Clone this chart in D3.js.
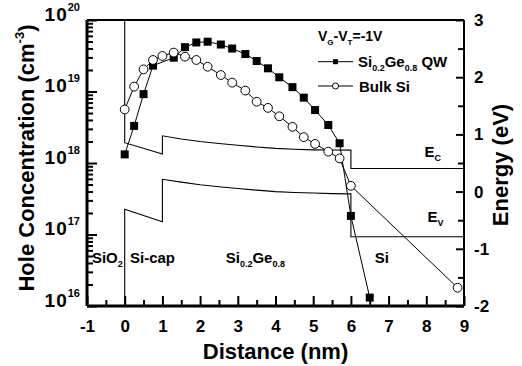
<!DOCTYPE html>
<html>
<head>
<meta charset="utf-8">
<script src="https://cdn.jsdelivr.net/npm/d3@7"></script>
<style>
    body { margin: 0; background: #fff; }
    svg { display: block; }
</style>
</head>
<body>
<div id="chart"></div>
<script>
// Hole concentration, Si0.2Ge0.8 quantum well (filled squares)
const qwDistance = [0, 0.25, 0.5, 0.75, 1.3, 1.6, 1.9, 2.2, 2.55, 2.85, 3.2, 3.5, 3.8, 4.1, 4.45, 4.75, 5.05, 5.4, 5.7, 6.0, 6.5];
const qwHoles = [1.32e18, 3.3e18, 9.2e18, 2.3e19, 2.97e19, 4.17e19, 4.85e19, 4.97e19, 4.54e19, 3.99e19, 3.34e19, 2.67e19,
    2.11e19, 1.58e19, 1.15e19, 8.2e18, 5.5e18, 3.4e18, 1.89e18, 1.82e17, 1.31e16];

// Hole concentration, bulk Si (open circles)
const bulkDistance = [0, 0.25, 0.5, 0.75, 1.0, 1.3, 1.6, 1.9, 2.2, 2.55, 2.85, 3.2, 3.5, 3.8, 4.1, 4.45, 4.75, 5.05, 5.4, 5.7, 6.0, 8.83];
const bulkHoles = [5.6e18, 1.17e19, 2.04e19, 2.76e19, 3.14e19, 3.5e19, 3.07e19, 2.76e19, 2.22e19, 1.7e19, 1.33e19, 1.03e19,
    7.2e18, 5.9e18, 4.5e18, 3.2e18, 2.3e18, 1.85e18, 1.44e18, 1.16e18, 4.8e17, 1.8e16];

// Band edges (right axis, eV)
const ecDistance = [0, 0, 1, 1, 1.5, 2, 2.5, 3, 3.5, 4, 4.5, 5, 5.5, 6, 6, 9];
const ecEnergy = [3, 0.855, 0.657, 0.975, 0.92, 0.875, 0.84, 0.81, 0.78, 0.755, 0.74, 0.73, 0.727, 0.725, 0.405, 0.405];
const evDistance = [0, 0, 1, 1, 1.5, 2, 2.5, 3, 3.5, 4, 4.5, 5, 5.5, 6, 6, 9];
const evEnergy = [-2, -0.31, -0.526, 0.215, 0.165, 0.12, 0.085, 0.055, 0.025, 0.0, -0.015, -0.025, -0.035, -0.04, -0.79, -0.79];

// Ticks
const distanceTicks = d3.range(-1, 10);
const distanceMinor = d3.range(-0.5, 9, 1);
const energyTicks = d3.range(-2, 4);
const energyMinor = d3.range(-1.5, 3, 1);
const holeExponents = [16, 17, 18, 19, 20];

// Region labels, placed in (nm, eV)
const regionLabels = [
    {parts: [["SiO", 0], ["2", 1]], x: -0.87, e: -1.25},
    {parts: [["Si-cap", 0]], x: 0.14, e: -1.25},
    {parts: [["Si", 0], ["0.2", 1], ["Ge", 0], ["0.8", 1]], x: 2.68, e: -1.25},
    {parts: [["Si", 0]], x: 6.63, e: -1.25},
    {parts: [["E", 0], ["C", 1]], x: 7.95, e: 0.6},
    {parts: [["E", 0], ["V", 1]], x: 8.03, e: -0.53}
];

const FONT = '"Liberation Sans", Arial, Helvetica, sans-serif';
const W = 522, H = 366;
const margin = {top: 20, right: 58, bottom: 60, left: 87};
const iw = W - margin.left - margin.right;
const ih = H - margin.top - margin.bottom;

const intLabel = d => String(d);  // plain hyphen for negatives, like the original

const svg = d3.select("#chart").append("svg")
    .attr("width", W)
    .attr("height", H)
    .style("font-family", FONT)
    .style("font-weight", "bold");

const g = svg.append("g")
    .attr("transform", `translate(${margin.left},${margin.top})`);

const x = d3.scaleLinear().domain([-1, 9]).range([0, iw]);
const yHoles = d3.scaleLog().domain([1e16, 1e20]).range([ih, 0]);
const yEnergy = d3.scaleLinear().domain([-2, 3]).range([ih, 0]);

// write text with sub/superscript parts: shift 1 = subscript, -1 = superscript
function richText(sel, parts, size, subSize) {
    let cur = 0;
    parts.forEach(([txt, shift]) => {
        const target = shift > 0 ? 4 : shift < 0 ? -10 : 0;
        sel.append("tspan")
            .attr("dy", target - cur)
            .attr("font-size", shift === 0 ? size : subSize)
            .text(txt);
        cur = target;
    });
}

function styleAxis(a, size) {
    a.select(".domain").remove();
    a.attr("font-family", FONT).attr("font-size", size).attr("font-weight", "bold");
    a.selectAll("line").attr("stroke", "#000").attr("stroke-width", 2);
    a.selectAll("text").attr("fill", "#000");
}

// Bottom axis
g.append("g")
    .attr("transform", `translate(0,${ih})`)
    .call(d3.axisBottom(x).tickValues(distanceTicks).tickFormat(intLabel)
        .tickSizeInner(-10).tickSizeOuter(0).tickPadding(14))
    .call(a => styleAxis(a, 17));
g.append("g")
    .attr("transform", `translate(0,${ih})`)
    .call(d3.axisBottom(x).tickValues(distanceMinor).tickSizeInner(-6).tickSizeOuter(0).tickFormat(""))
    .call(a => styleAxis(a, 17));

// Right axis (energy)
g.append("g")
    .attr("transform", `translate(${iw},0)`)
    .call(d3.axisRight(yEnergy).tickValues(energyTicks).tickFormat(intLabel)
        .tickSizeInner(-8).tickSizeOuter(0).tickPadding(10))
    .call(a => styleAxis(a, 17));
g.append("g")
    .attr("transform", `translate(${iw},0)`)
    .call(d3.axisRight(yEnergy).tickValues(energyMinor).tickSizeInner(-6).tickSizeOuter(0).tickFormat(""))
    .call(a => styleAxis(a, 17));

// Left axis (log hole concentration)
const holeMinor = [];
holeExponents.slice(0, -1).forEach(p => {
    for (let k = 2; k <= 9; k++) holeMinor.push(k * Math.pow(10, p));
});
g.append("g")
    .call(d3.axisLeft(yHoles).tickValues(holeMinor).tickSizeInner(-6).tickSizeOuter(0).tickFormat(""))
    .call(a => styleAxis(a, 19));
g.append("g")
    .call(d3.axisLeft(yHoles).tickValues(holeExponents.map(p => Math.pow(10, p)))
        .tickSizeInner(-10).tickSizeOuter(0).tickPadding(7).tickFormat(""))
    .call(a => styleAxis(a, 19))
    .call(a => a.selectAll(".tick text")
        .attr("dy", "0.4em")
        .each(function(d) {
            const t = d3.select(this);
            richText(t, [["10", 0], [String(Math.round(Math.log10(d))), -1]], 19, 11);
            t.select("tspan").attr("letter-spacing", 1);
        }));

// Frame
g.append("line").attr("x1", 0).attr("x2", 0).attr("y1", 0).attr("y2", ih).attr("stroke", "#000").attr("stroke-width", 3);
g.append("line").attr("x1", 0).attr("x2", iw).attr("y1", ih).attr("y2", ih).attr("stroke", "#000").attr("stroke-width", 3);
g.append("line").attr("x1", 0).attr("x2", iw).attr("y1", 0).attr("y2", 0).attr("stroke", "#000").attr("stroke-width", 2);
g.append("line").attr("x1", iw).attr("x2", iw).attr("y1", 0).attr("y2", ih).attr("stroke", "#000").attr("stroke-width", 2);

// Band edges
const bandLine = d3.line().x(d => x(d[0])).y(d => yEnergy(d[1]));
[[ecDistance, ecEnergy], [evDistance, evEnergy]].forEach(([xs, es]) => {
    g.append("path")
        .datum(d3.zip(xs, es))
        .attr("d", bandLine)
        .attr("fill", "none")
        .attr("stroke", "#000")
        .attr("stroke-width", 1.1);
});

// Hole concentration curves
const holeLine = d3.line().x(d => x(d[0])).y(d => yHoles(d[1]));
const qwData = d3.zip(qwDistance, qwHoles);
const bulkData = d3.zip(bulkDistance, bulkHoles);

g.append("path").datum(bulkData).attr("d", holeLine)
    .attr("fill", "none").attr("stroke", "#000").attr("stroke-width", 1);
g.append("path").datum(qwData).attr("d", holeLine)
    .attr("fill", "none").attr("stroke", "#000").attr("stroke-width", 1);

g.selectAll(".qw").data(qwData).enter().append("rect")
    .attr("class", "qw")
    .attr("x", d => x(d[0]) - 4)
    .attr("y", d => yHoles(d[1]) - 4)
    .attr("width", 8)
    .attr("height", 8)
    .attr("fill", "#000");

g.selectAll(".bulk").data(bulkData).enter().append("circle")
    .attr("class", "bulk")
    .attr("cx", d => x(d[0]))
    .attr("cy", d => yHoles(d[1]))
    .attr("r", 4.4)
    .attr("fill", "#fff")
    .attr("stroke", "#000")
    .attr("stroke-width", 1);

// Region and band labels
regionLabels.forEach(l => {
    const t = g.append("text")
        .attr("x", x(l.x))
        .attr("y", yEnergy(l.e))
        .attr("font-size", 15);
    richText(t, l.parts, 15, 9);
});

// Legend
const legend = svg.append("g").attr("transform", "translate(318,0)");
richText(legend.append("text").attr("y", 40.5).attr("font-size", 14),
    [["V", 0], ["G", 1], ["-V", 0], ["T", 1], ["=-1V", 0]], 14, 8);

legend.append("line").attr("x1", 0).attr("x2", 35).attr("y1", 61.7).attr("y2", 61.7).attr("stroke", "#000");
legend.append("rect").attr("x", 15).attr("y", 59.2).attr("width", 5).attr("height", 5).attr("fill", "#000");
richText(legend.append("text").attr("x", 40).attr("y", 66.5).attr("font-size", 15),
    [["Si", 0], ["0.2", 1], ["Ge", 0], ["0.8", 1], [" QW", 0]], 15, 9);

legend.append("line").attr("x1", 0).attr("x2", 35).attr("y1", 86).attr("y2", 86).attr("stroke", "#000");
legend.append("circle").attr("cx", 17.5).attr("cy", 86).attr("r", 3).attr("fill", "#fff").attr("stroke", "#000");
richText(legend.append("text").attr("x", 41).attr("y", 91.5).attr("font-size", 15),
    [["Bulk Si", 0]], 15, 9);

// Axis titles
svg.append("text")
    .attr("x", margin.left + iw / 2)
    .attr("y", 359)
    .attr("text-anchor", "middle")
    .attr("font-size", 22)
    .text("Distance (nm)");

const yTitle = svg.append("text")
    .attr("transform", `translate(34,${margin.top + ih / 2 - 5}) rotate(-90)`)
    .attr("text-anchor", "middle")
    .attr("font-size", 22);
richText(yTitle, [["Hole Concentration (cm", 0], ["-3", -1], [")", 0]], 22, 13);

svg.append("text")
    .attr("transform", `translate(508,${margin.top + ih / 2 + 2}) rotate(-90)`)
    .attr("text-anchor", "middle")
    .attr("font-size", 22)
    .text("Energy (eV)");
</script>
</body>
</html>
